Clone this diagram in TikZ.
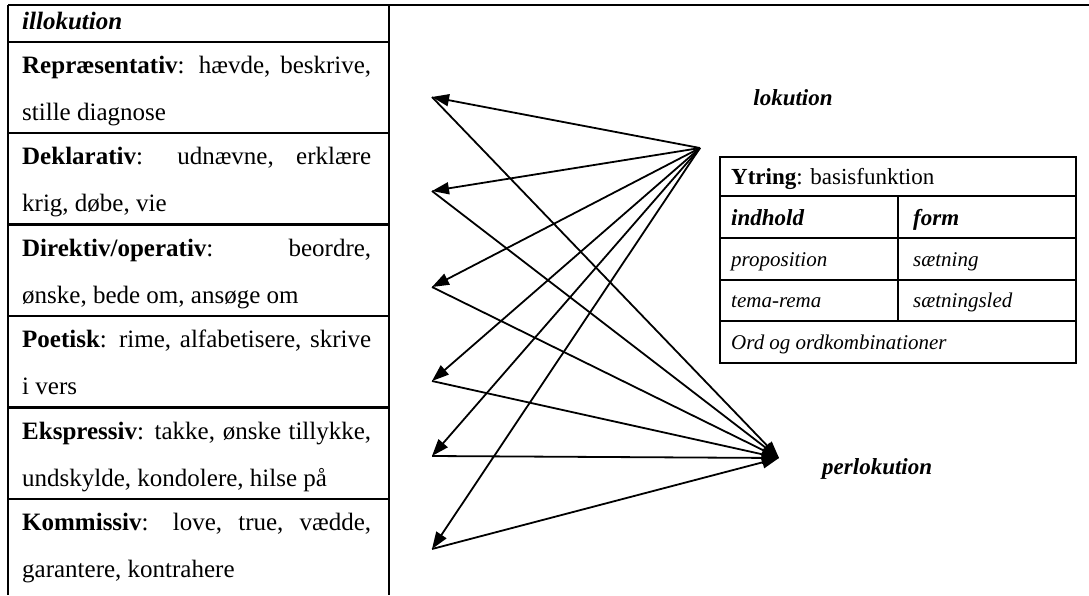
\documentclass[tikz,border=0pt]{standalone}
\usepackage{fontspec}
\setmainfont{Liberation Serif}
\usetikzlibrary{arrows.meta}
\newcommand\jline[1]{\makebox[349pt][s]{#1}}
\begin{document}
\begin{tikzpicture}[x=1pt,y=-1pt,
  rule/.style={line width=2.2pt},
  thin rule/.style={line width=1.6pt},
  cell/.style={anchor=base west, inner sep=0pt, font=\fontsize{25}{30}\selectfont},
  tcell/.style={anchor=base west, inner sep=0pt, font=\fontsize{23}{28}\selectfont},
  smallcell/.style={anchor=base west, inner sep=0pt, font=\fontsize{21}{26}\selectfont},
  arr/.style={line width=1.8pt, -{Triangle[length=17pt,width=12pt]}}]
\useasboundingbox (0,0) rectangle (1089,595);
\fill[white] (0,0) rectangle (1089,595);
% ---- left table frame
\draw[rule] (8,5) -- (1089,5);
\draw[rule] (8,5) -- (8,595);
\draw[rule] (389,5) -- (389,595);
\foreach \y in {42,133,224.5,316,407.5,499} \draw[rule] (8,\y) -- (389,\y);
% ---- left table text
\node[cell] (ill) at (22,29) {\textbf{\textit{illokution}}};
\node[cell] (r1a) at (22,73) {\jline{\textbf{Repræsentativ}: hævde, beskrive,}};
\node[cell] (r1b) at (22,120) {stille diagnose};
\node[cell] (r2a) at (22,164.5) {\jline{\textbf{Deklarativ}: udnævne, erklære}};
\node[cell] (r2b) at (22,211.5) {krig, døbe, vie};
\node[cell] (r3a) at (22,256) {\jline{\textbf{Direktiv/operativ}: beordre,}};
\node[cell] (r3b) at (22,303) {ønske, bede om, ansøge om};
\node[cell] (r4a) at (22,347.5) {\jline{\textbf{Poetisk}: rime, alfabetisere, skrive}};
\node[cell] (r4b) at (22,394.5) {i vers};
\node[cell] (r5a) at (22,439) {\jline{\textbf{Ekspressiv}: takke, ønske tillykke,}};
\node[cell] (r5b) at (22,486) {undskylde, kondolere, hilse på};
\node[cell] (r6a) at (22,530.5) {\jline{\textbf{Kommissiv}: love, true, vædde,}};
\node[cell] (r6b) at (22,577.5) {garantere, kontrahere};
% ---- right labels
\node[tcell, anchor=base] (lok) at (793,105) {\textbf{\textit{lokution}}};
\node[tcell] (perl) at (822,474) {\textbf{\textit{perlokution}}};
% ---- Ytring table
\draw[thin rule] (720,157) rectangle (1076,363);
\foreach \y in {196,238,280,321} \draw[thin rule] (720,\y) -- (1076,\y);
\draw[thin rule] (898,196) -- (898,321);
\node[tcell] (yt) at (731,184) {\textbf{Ytring}: basisfunktion};
\node[tcell] (ind) at (731,225) {\textbf{\textit{indhold}}};
\node[tcell] (form) at (913,225) {\textbf{\textit{form}}};
\node[smallcell] (prop) at (731,266) {\textit{proposition}};
\node[smallcell] (saet) at (913,266) {\textit{sætning}};
\node[smallcell] (tema) at (731,307) {\textit{tema-rema}};
\node[smallcell] (sled) at (913,307) {\textit{sætningsled}};
\node[smallcell] (ord) at (731,349) {\textit{Ord og ordkombinationer}};
% ---- arrows
\coordinate (L) at (700,148);
\coordinate (P) at (779,458);
\coordinate (A1) at (432,97);
\coordinate (A2) at (432,191);
\coordinate (A3) at (432,287);
\coordinate (A4) at (432,381);
\coordinate (A5) at (432,456);
\coordinate (A6) at (432,549);
\foreach \a in {A1,A2,A3,A4,A5,A6} {
  \draw[arr] (L) -- (\a);
  \draw[arr] (\a) -- (P);
}
\end{tikzpicture}
\end{document}
